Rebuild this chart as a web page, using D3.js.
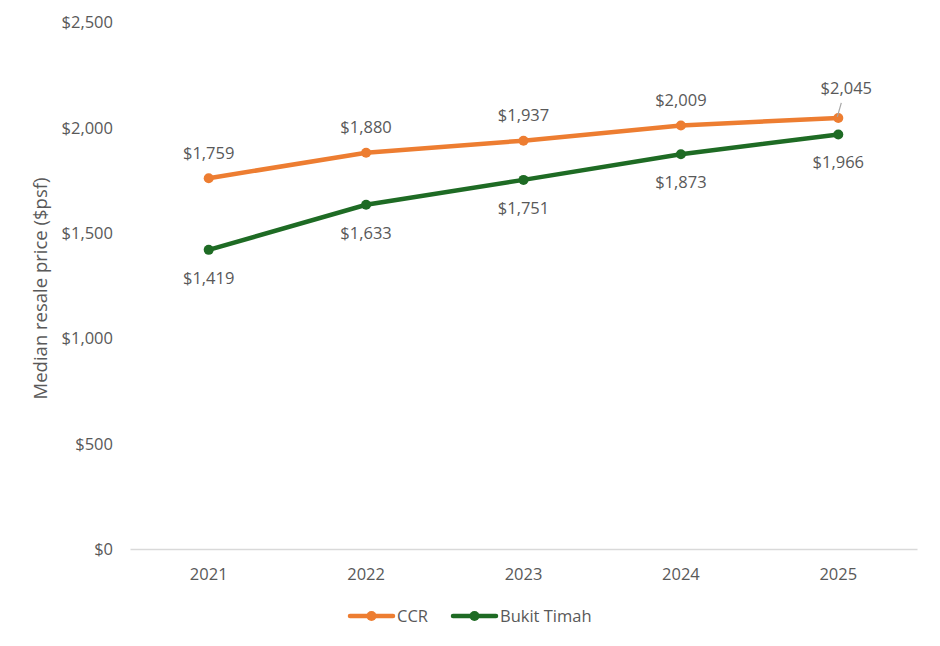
<!DOCTYPE html>
<html>
<head>
    <title>Median resale price</title>
    <script src="https://d3js.org/d3.v7.min.js"></script>
    <style>
        body { margin: 0; background: #fff; }
        text { font-family: "Open Sans", "Liberation Sans", sans-serif; fill: #595959; }
        .tick text { font-size: 16.5px; }
        .lbl { font-size: 16.5px; }
        .legend text { font-size: 16.5px; }
    </style>
</head>
<body>
    <svg width="940" height="646"></svg>
    <script>
        var years = ["2021", "2022", "2023", "2024", "2025"];
        var ccr = [1759, 1880, 1937, 2009, 2045];
        var bukitTimah = [1419, 1633, 1751, 1873, 1966];
        var yTicks = [0, 500, 1000, 1500, 2000, 2500];

        var series = [
            {name: "CCR", values: ccr, color: "#ED7D31", pos: "above"},
            {name: "Bukit Timah", values: bukitTimah, color: "#1E6B24", pos: "below"}
        ];

        var svg = d3.select("svg"),
            margin = {top: 22, right: 23, bottom: 97, left: 130},
            width = +svg.attr("width") - margin.left - margin.right,
            height = +svg.attr("height") - margin.top - margin.bottom;

        var x = d3.scaleBand().domain(years).range([0, width]);
        var y = d3.scaleLinear().domain([0, 2500]).range([height, 0]);
        var fmt = d3.format("$,");

        var g = svg.append("g").attr("transform", "translate(" + margin.left + "," + margin.top + ")");

        // y axis (labels only)
        var yAxis = g.append("g")
            .call(d3.axisLeft(y).tickValues(yTicks).tickFormat(fmt).tickSize(0).tickPadding(17));
        yAxis.select(".domain").remove();
        yAxis.selectAll("text").attr("dy", "0.35em");

        // x axis
        var xAxis = g.append("g")
            .attr("transform", "translate(0," + height + ")")
            .call(d3.axisBottom(x).tickSize(0).tickPadding(19));
        xAxis.select(".domain").attr("stroke", "#d9d9d9").attr("stroke-width", 1.5);

        g.append("text")
            .attr("transform", "rotate(-90)")
            .attr("x", -height / 2 - 3)
            .attr("y", -83)
            .attr("text-anchor", "middle")
            .style("font-size", "18.5px")
            .text("Median resale price ($psf)");

        var cx = function(i) { return x(years[i]) + x.bandwidth() / 2; };

        var line = d3.line()
            .x(function(d, i) { return cx(i); })
            .y(function(d) { return y(d); });

        series.forEach(function(s) {
            g.append("path")
                .datum(s.values)
                .attr("fill", "none")
                .attr("stroke", s.color)
                .attr("stroke-width", 4.5)
                .attr("stroke-linecap", "round")
                .attr("d", line);

            g.selectAll(null)
                .data(s.values)
                .enter().append("circle")
                .attr("cx", function(d, i) { return cx(i); })
                .attr("cy", function(d) { return y(d); })
                .attr("r", 5)
                .attr("fill", s.color);
        });

        // data labels
        series.forEach(function(s) {
            s.values.forEach(function(v, i) {
                var lx = cx(i), ly;
                if (s.pos === "above") ly = y(v) - 25;
                else ly = y(v) + 28;
                if (s.pos === "above" && i === s.values.length - 1) {
                    lx += 8; ly = y(v) - 30;
                    g.append("line")
                        .attr("x1", lx - 5).attr("y1", ly + 15)
                        .attr("x2", cx(i) - 1).attr("y2", y(v) - 1)
                        .attr("stroke", "#a6a6a6").attr("stroke-width", 1.2);
                }
                g.append("text")
                    .attr("class", "lbl")
                    .attr("x", lx)
                    .attr("y", ly)
                    .attr("dy", "0.35em")
                    .attr("text-anchor", "middle")
                    .text(fmt(v));
            });
        });

        // legend
        var legend = svg.append("g").attr("class", "legend");
        var lx = [350, 453];
        series.forEach(function(s, i) {
            var lg = legend.append("g").attr("transform", "translate(" + lx[i] + ",616)");
            lg.append("line").attr("x1", 0).attr("x2", 43).attr("y1", 0).attr("y2", 0)
                .attr("stroke", s.color).attr("stroke-width", 4.5).attr("stroke-linecap", "round");
            lg.append("circle").attr("cx", 21.5).attr("cy", 0).attr("r", 5).attr("fill", s.color);
            lg.append("text").attr("x", 47).attr("y", 0).attr("dy", "0.35em").text(s.name);
        });
    </script>
</body>
</html>
